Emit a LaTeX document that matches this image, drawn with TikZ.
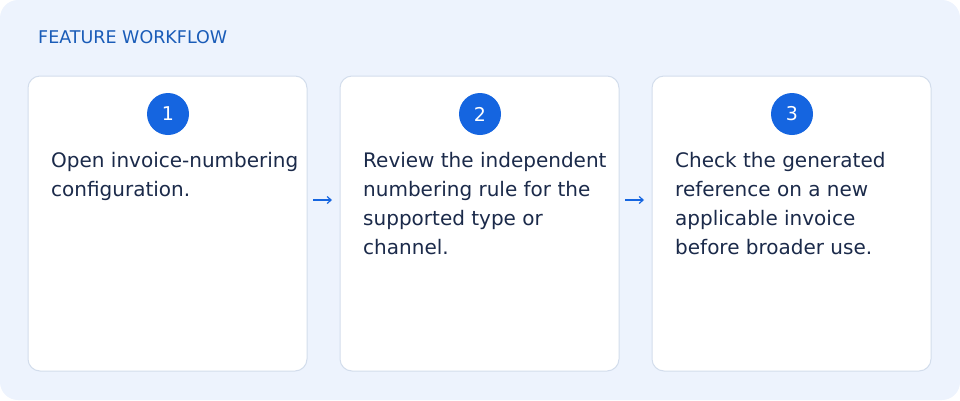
\documentclass[tikz,border=0pt]{standalone}
\usepackage{fontspec}
\usetikzlibrary{arrows.meta}
\setmainfont{DejaVu Sans}
\definecolor{bg}{HTML}{EDF3FD}
\definecolor{cardline}{HTML}{D3DDEC}
\definecolor{accent}{HTML}{1565E0}
\definecolor{titlec}{HTML}{1A5CB8}
\definecolor{txt}{HTML}{1B2A4A}
\begin{document}
\begin{tikzpicture}[x=1pt,y=-1pt,
  card/.style={draw=cardline,line width=1pt,fill=white,rounded corners=12pt},
  num/.style={circle,fill=accent,minimum size=42pt,inner sep=0pt,text=white,font=\fontsize{19}{22}\selectfont},
  body/.style={anchor=north west,align=left,text=txt,inner sep=0pt,font=\fontsize{20}{29}\selectfont},
  arr/.style={draw=accent,line width=1.2pt,-{Straight Barb[length=4pt,width=7pt]}}]
\fill[bg,rounded corners=18pt] (0,0) rectangle (960,400);
\useasboundingbox (0,0) rectangle (960,400);
\node[anchor=west,text=titlec,inner sep=0pt,font=\fontsize{17.5}{20}\selectfont] (title) at (38,37) {FEATURE WORKFLOW};
\foreach \i/\x in {1/28,2/340,3/652}{
  \draw[card] (\x,76) rectangle (\x+279,371);
  \node[num] (n\i) at (\x+140,114) {\i};
}
\node[body] (t1) at (51,152) {Open invoice-numbering\\configuration.};
\node[body] (t2) at (363,152) {Review the independent\\numbering rule for the\\supported type or\\channel.};
\node[body] (t3) at (675,152) {Check the generated\\reference on a new\\applicable invoice\\before broader use.};
\coordinate (a1) at (313,200);\coordinate (b1) at (332,200);
\coordinate (a2) at (625,200);\coordinate (b2) at (644,200);
\draw[arr] (a1) -- (b1);
\draw[arr] (a2) -- (b2);
\end{tikzpicture}
\end{document}
